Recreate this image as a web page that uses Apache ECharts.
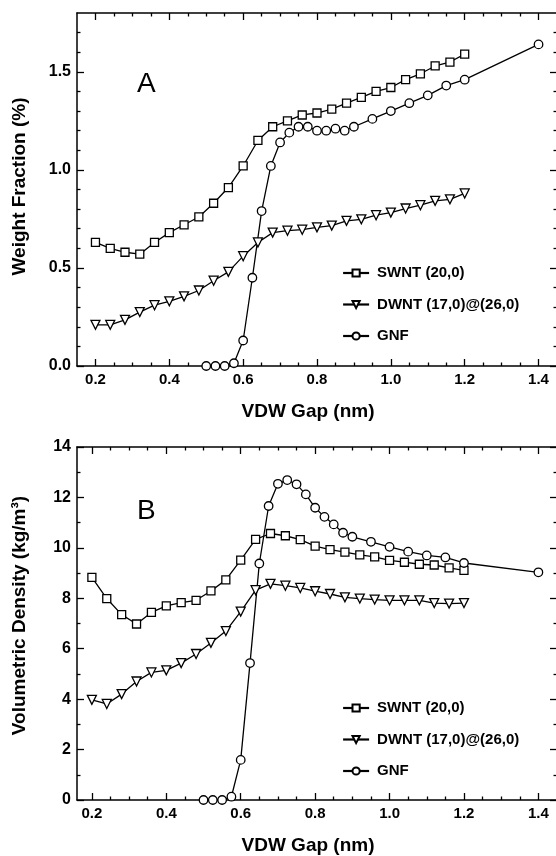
<!DOCTYPE html>
<html>
<head>
<meta charset="utf-8">
<script src="https://cdn.jsdelivr.net/npm/echarts@6/dist/echarts.min.js"></script>
<style>
html, body { margin: 0; padding: 0; background: #fff; }
#chart { width: 556px; height: 856px; }
</style>
</head>
<body>
<div id="chart"></div>
<script>
// Gap values (nm)
const xTube = [0.20, 0.24, 0.28, 0.32, 0.36, 0.40, 0.44, 0.48, 0.52, 0.56, 0.60, 0.64, 0.68,
    0.72, 0.76, 0.80, 0.84, 0.88, 0.92, 0.96, 1.00, 1.04, 1.08, 1.12, 1.16, 1.20];
const xGNF = [0.500, 0.525, 0.550, 0.575, 0.600, 0.625, 0.650, 0.675, 0.700, 0.725, 0.750, 0.775,
    0.800, 0.825, 0.850, 0.875, 0.900, 0.950, 1.000, 1.050, 1.100, 1.150, 1.200, 1.400];

// Panel A - weight fraction (%)
const wSWNT = [0.63, 0.60, 0.58, 0.57, 0.63, 0.68, 0.72, 0.76, 0.83, 0.91, 1.02, 1.15, 1.22,
    1.25, 1.28, 1.29, 1.31, 1.34, 1.37, 1.40, 1.42, 1.46, 1.49, 1.53, 1.55, 1.59];
const wDWNT = [0.21, 0.21, 0.235, 0.275, 0.31, 0.33, 0.355, 0.385, 0.435, 0.48, 0.56, 0.63, 0.68,
    0.69, 0.695, 0.707, 0.716, 0.74, 0.748, 0.769, 0.782, 0.803, 0.82, 0.842, 0.85, 0.88];
const wGNF = [0, 0, 0, 0.014, 0.13, 0.45, 0.79, 1.02, 1.14, 1.19, 1.22, 1.22,
    1.20, 1.20, 1.21, 1.20, 1.22, 1.26, 1.30, 1.34, 1.38, 1.43, 1.46, 1.64];

// Panel B - volumetric density (kg/m3)
const dSWNT = [8.83, 7.99, 7.35, 6.98, 7.44, 7.70, 7.83, 7.92, 8.29, 8.73, 9.51, 10.34, 10.57,
    10.48, 10.33, 10.07, 9.93, 9.83, 9.72, 9.64, 9.50, 9.43, 9.35, 9.32, 9.21, 9.11];
const dDWNT = [3.97, 3.81, 4.20, 4.70, 5.06, 5.14, 5.43, 5.79, 6.23, 6.70, 7.47, 8.32, 8.57,
    8.50, 8.41, 8.28, 8.17, 8.04, 7.99, 7.95, 7.92, 7.92, 7.92, 7.81, 7.79, 7.81];
const dGNF = [0, 0, 0, 0.13, 1.59, 5.43, 9.38, 11.66, 12.54, 12.69, 12.52, 12.12,
    11.59, 11.23, 10.93, 10.60, 10.44, 10.24, 10.04, 9.85, 9.70, 9.62, 9.40, 9.03];

// Ticks
const xMajor = [0.2, 0.4, 0.6, 0.8, 1.0, 1.2, 1.4];
const xMinor = [0.25, 0.3, 0.35, 0.45, 0.5, 0.55, 0.65, 0.7, 0.75, 0.85, 0.9, 0.95,
    1.05, 1.1, 1.15, 1.25, 1.3, 1.35];
const wMajor = [0, 0.5, 1.0, 1.5];
const wMinor = [0.1, 0.2, 0.3, 0.4, 0.6, 0.7, 0.8, 0.9, 1.1, 1.2, 1.3, 1.4, 1.6, 1.7];
const dMajor = [0, 2, 4, 6, 8, 10, 12, 14];
const dMinor = [1, 3, 5, 7, 9, 11, 13];

const names = ['SWNT (20,0)', 'DWNT (17,0)@(26,0)', 'GNF'];
const symbols = ['rect', 'triangle', 'circle'];
const symbolSizes = [8, 9, 8.5];
const symbolRotates = [0, 180, 0];

const FONT = '"Liberation Sans", Arial, Helvetica, sans-serif';

// one axis of the frame: major ticks (+ line, labels) and minor ticks
let frameAxis = (grid, pos, min, max, major, minor, label, labelSize, name, nameGap, namePad) => {
    let main = {
        type: 'value', gridIndex: grid, position: pos, min: min, max: max,
        splitLine: { show: false },
        axisLine: { show: true, onZero: false, lineStyle: { color: '#000', width: 1.5 } },
        axisTick: { show: true, inside: true, length: 7, customValues: major,
            lineStyle: { color: '#000', width: 1.3 } },
        axisLabel: { show: !!label, customValues: major, formatter: label,
            color: '#000', fontFamily: FONT, fontWeight: 'bold', fontSize: labelSize, margin: 6 }
    };
    if (name) {
        main.name = name;
        main.nameLocation = 'middle';
        main.nameGap = nameGap;
        main.nameTextStyle = { color: '#000', fontFamily: FONT, fontWeight: 'bold',
            fontSize: 19, padding: namePad };
    }
    let sub = {
        type: 'value', gridIndex: grid, position: pos, min: min, max: max,
        splitLine: { show: false },
        axisLine: { show: false, onZero: false },
        axisTick: { show: true, inside: true, length: 3.5, customValues: minor,
            lineStyle: { color: '#000', width: 1.3 } },
        axisLabel: { show: false }
    };
    return [main, sub];
};

let fmt1 = v => v.toFixed(1);
let fmt0 = v => String(Math.round(v));

let xAxes = [].concat(
    frameAxis(0, 'bottom', 0.15, 1.45, xMajor, xMinor, fmt1, 15, 'VDW Gap (nm)', 36, [0, 18, 0, 0]),
    frameAxis(0, 'top', 0.15, 1.45, xMajor, xMinor, null),
    frameAxis(1, 'bottom', 0.16, 1.45, xMajor, xMinor, fmt1, 15, 'VDW Gap (nm)', 36, [0, 18, 0, 0]),
    frameAxis(1, 'top', 0.16, 1.45, xMajor, xMinor, null)
);
let yAxes = [].concat(
    frameAxis(0, 'left', 0, 1.8, wMajor, wMinor, fmt1, 16, 'Weight Fraction (%)', 48, [0, 0, 0, 6]),
    frameAxis(0, 'right', 0, 1.8, wMajor, wMinor, null),
    frameAxis(1, 'left', 0, 14, dMajor, dMinor, fmt0, 16, 'Volumetric Density (kg/m³)', 48, [0, 0, 0, 16]),
    frameAxis(1, 'right', 0, 14, dMajor, dMinor, null)
);

let makeSeries = (k, xs, ys, xi, yi) => ({
    type: 'line',
    name: names[k],
    xAxisIndex: xi,
    yAxisIndex: yi,
    data: xs.map((x, i) => [x, ys[i]]),
    symbol: symbols[k],
    symbolSize: symbolSizes[k],
    symbolRotate: symbolRotates[k],
    showAllSymbol: true,
    lineStyle: { color: '#000', width: 1.3 },
    itemStyle: { color: '#fff', borderColor: '#000', borderWidth: 1.3 },
    emphasis: { disabled: true },
    z: 3
});

let legendFor = top => ({
    orient: 'vertical',
    left: 337,
    top: top,
    itemWidth: 26,
    itemHeight: 9,
    itemGap: 15.5,
    selectedMode: false,
    lineStyle: { width: 2.2 },
    textStyle: { color: '#000', fontFamily: FONT, fontWeight: 'bold', fontSize: 15,
        lineHeight: 16, padding: [0, 0, 0, 3] },
    data: names
});

let option = {
    animation: false,
    backgroundColor: '#fff',
    grid: [
        { left: 77, top: 13, width: 480, height: 353, containLabel: false, outerBoundsMode: 'none' },
        { left: 77, top: 447, width: 480, height: 353, containLabel: false, outerBoundsMode: 'none' }
    ],
    xAxis: xAxes,
    yAxis: yAxes,
    legend: [legendFor(260), legendFor(695)],
    graphic: [
        { type: 'text', left: 137, top: 70, style: { text: 'A', font: '28px ' + FONT, fill: '#000' } },
        { type: 'text', left: 137, top: 497, style: { text: 'B', font: '28px ' + FONT, fill: '#000' } }
    ],
    series: [
        makeSeries(0, xTube, wSWNT, 0, 0),
        makeSeries(1, xTube, wDWNT, 0, 0),
        makeSeries(2, xGNF, wGNF, 0, 0),
        makeSeries(0, xTube, dSWNT, 4, 4),
        makeSeries(1, xTube, dDWNT, 4, 4),
        makeSeries(2, xGNF, dGNF, 4, 4)
    ]
};

let chart = echarts.init(document.getElementById('chart'), null, { renderer: 'canvas' });
chart.setOption(option);
</script>
</body>
</html>
